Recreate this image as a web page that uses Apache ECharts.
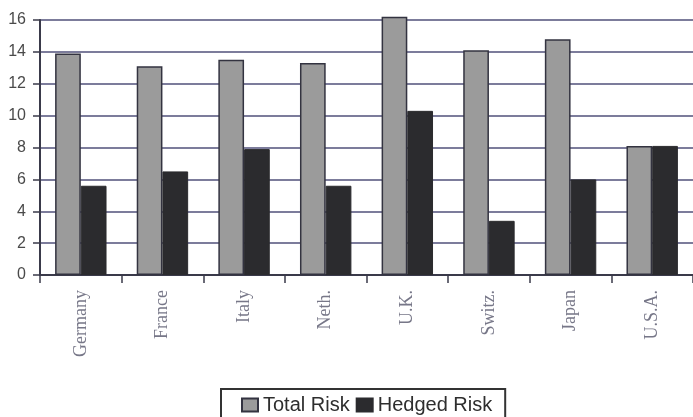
<!DOCTYPE html>
<html>
<head>
<meta charset="utf-8">
<script src="https://cdn.jsdelivr.net/npm/echarts@6/dist/echarts.min.js"></script>
<style>
  html, body { margin: 0; padding: 0; background: #ffffff; }
  #chart { width: 693px; height: 417px; }
</style>
</head>
<body>
<div id="chart"></div>
<script>
// Country labels along the category axis
const countries = ['Germany', 'France', 'Italy', 'Neth.', 'U.K.', 'Switz.', 'Japan', 'U.S.A.'];

// Risk values per country
const totalRisk = [13.9, 13.1, 13.5, 13.3, 16.2, 14.1, 14.8, 8.1];
const hedgedRisk = [5.6, 6.5, 7.9, 5.6, 10.3, 3.4, 6.0, 8.1];

// Value axis range and step
const yMin = 0;
const yMax = 16;
const yStep = 2;

const chart = echarts.init(document.getElementById('chart'), null, { renderer: 'canvas' });

const gridLine = '#50507a';
const axisDark = '#3a3a4a';

chart.setOption({
  backgroundColor: '#ffffff',
  animation: false,
  grid: { left: 40, right: 0, top: 20, bottom: 142, containLabel: false },
  legend: {
    data: ['Total Risk', 'Hedged Risk'],
    left: 221,
    top: 389,
    orient: 'horizontal',
    icon: 'rect',
    itemWidth: 16,
    itemHeight: 13,
    itemGap: 6,
    padding: [6, 13, 14, 20],
    borderColor: '#333333',
    borderWidth: 2,
    borderRadius: 0,
    textStyle: { fontFamily: 'Liberation Sans, Arial, sans-serif', fontSize: 20, color: '#2e2e2e' }
  },
  xAxis: {
    type: 'category',
    data: countries,
    boundaryGap: true,
    axisLine: { show: true, lineStyle: { color: axisDark, width: 2 } },
    axisTick: { show: true, alignWithLabel: false, length: 8, lineStyle: { color: axisDark, width: 1.5 } },
    axisLabel: {
      rotate: 90,
      margin: 15,
      interval: 0,
      fontFamily: 'Liberation Serif, Times New Roman, serif',
      fontSize: 18,
      color: '#777788'
    },
    splitLine: { show: false }
  },
  yAxis: {
    type: 'value',
    min: yMin,
    max: yMax,
    interval: yStep,
    axisLine: { show: true, lineStyle: { color: axisDark, width: 2 } },
    axisTick: { show: true, length: 7, lineStyle: { color: axisDark, width: 1.5 } },
    axisLabel: {
      margin: 14,
      fontFamily: 'Liberation Sans, Arial, sans-serif',
      fontSize: 16,
      color: '#4a4a4a'
    },
    splitLine: { show: true, lineStyle: { color: gridLine, width: 1.5 } }
  },
  series: [
    {
      name: 'Total Risk',
      type: 'bar',
      data: totalRisk,
      barGap: '0%',
      barCategoryGap: '37%',
      clip: false,
      itemStyle: { color: '#9b9b9b', borderColor: '#333340', borderWidth: 1.5 }
    },
    {
      name: 'Hedged Risk',
      type: 'bar',
      data: hedgedRisk,
      barGap: '0%',
      barCategoryGap: '37%',
      clip: false,
      itemStyle: { color: '#2b2b2e', borderColor: '#2b2b2e', borderWidth: 1 }
    }
  ]
});
</script>
</body>
</html>
